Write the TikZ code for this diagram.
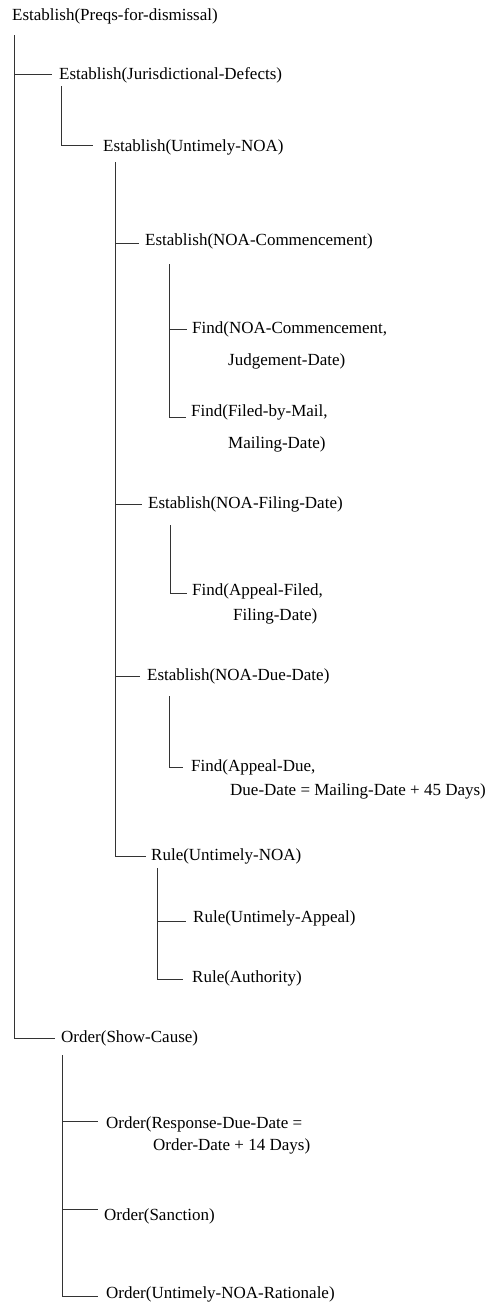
\documentclass[tikz,border=0pt]{standalone}
\usepackage{fontspec}
\setmainfont{Liberation Serif}
\begin{document}
\begin{tikzpicture}[x=1pt,y=-1pt,
  lbl/.style={anchor=west,inner sep=0pt,font=\fontsize{17}{20}\selectfont},
  conn/.style={draw=black!80,line width=0.8pt}]
\useasboundingbox[fill=white] (0,0) rectangle (489,1304);
% texts
\node[lbl] (root) at (12,16) {Establish(Preqs-for-dismissal)};
\node[lbl] (jd) at (59,75) {Establish(Jurisdictional-Defects)};
\node[lbl] (un) at (103,147) {Establish(Untimely-NOA)};
\node[lbl] (nc) at (145,241) {Establish(NOA-Commencement)};
\node[lbl] (f1) at (192,329) {Find(NOA-Commencement,};
\node[lbl] (f1b) at (228,361) {Judgement-Date)};
\node[lbl] (f2) at (191,412) {Find(Filed-by-Mail,};
\node[lbl] (f2b) at (228,444) {Mailing-Date)};
\node[lbl] (fd) at (148,504) {Establish(NOA-Filing-Date)};
\node[lbl] (f3) at (192,591) {Find(Appeal-Filed,};
\node[lbl] (f3b) at (233,616) {Filing-Date)};
\node[lbl] (dd) at (147,676) {Establish(NOA-Due-Date)};
\node[lbl] (f4) at (191,767) {Find(Appeal-Due,};
\node[lbl] (f4b) at (230,791) {Due-Date = Mailing-Date + 45 Days)};
\node[lbl] (ru) at (151,856) {Rule(Untimely-NOA)};
\node[lbl] (r1) at (193,918) {Rule(Untimely-Appeal)};
\node[lbl] (r2) at (192,978) {Rule(Authority)};
\node[lbl] (sc) at (61,1038) {Order(Show-Cause)};
\node[lbl] (o1) at (106,1124) {Order(Response-Due-Date =};
\node[lbl] (o1b) at (153,1146) {Order-Date + 14 Days)};
\node[lbl] (o2) at (104,1216) {Order(Sanction)};
\node[lbl] (o3) at (106,1294) {Order(Untimely-NOA-Rationale)};
% tops of the vertical connectors
\coordinate (rootv) at (14,35);
\coordinate (jdv) at (61,86);
\coordinate (unv) at (115,162);
\coordinate (ncv) at (169,264);
\coordinate (fdv) at (170,525);
\coordinate (ddv) at (169,696);
\coordinate (ruv) at (157,868);
\coordinate (scv) at (62,1055);
% connectors
\draw[conn] (rootv) |- ([xshift=-7pt,yshift=1pt]jd.west);
\draw[conn] (rootv) |- ([xshift=-6pt]sc.west);
\draw[conn] (jdv) |- ([xshift=-10pt,yshift=2pt]un.west);
\draw[conn] (unv) |- ([xshift=-6pt,yshift=-2pt]nc.west);
\draw[conn] (unv) |- ([xshift=-6pt]fd.west);
\draw[conn] (unv) |- ([xshift=-7pt]dd.west);
\draw[conn] (unv) |- ([xshift=-5pt]ru.west);
\draw[conn] (ncv) |- ([xshift=-5pt]f1.west);
\draw[conn] (ncv) |- ([xshift=-5pt,yshift=-5pt]f2.west);
\draw[conn] (fdv) |- ([xshift=-5pt,yshift=-2pt]f3.west);
\draw[conn] (ddv) |- ([xshift=-8pt]f4.west);
\draw[conn] (ruv) |- ([xshift=-7pt,yshift=-3pt]r1.west);
\draw[conn] (ruv) |- ([xshift=-9pt,yshift=-1pt]r2.west);
\draw[conn] (scv) |- ([xshift=-8pt,yshift=3pt]o1.west);
\draw[conn] (scv) |- ([xshift=-6pt,yshift=7pt]o2.west);
\draw[conn] (scv) |- ([xshift=-8pt,yshift=-2pt]o3.west);
\end{tikzpicture}
\end{document}
